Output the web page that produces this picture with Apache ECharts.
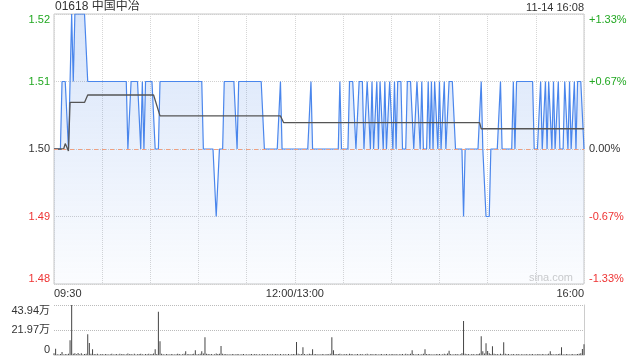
<!DOCTYPE html>
<html><head><meta charset="utf-8">
<script src="https://cdn.jsdelivr.net/npm/echarts@6/dist/echarts.min.js"></script>
<style>html,body{margin:0;padding:0;background:#fff}#c{width:640px;height:360px}</style>
</head><body><div id="c"></div>
<script>
const titleText = '01618 中国中冶';
const stampText = '11-14 16:08';
const watermark = 'sina.com';
const prevClose = 1.50;

const price = [
1.50,1.50,1.50,1.50,1.50,1.51,1.51,1.51,1.51,1.50,1.51,1.52,1.51,1.52,1.52,1.52,1.52,1.52,1.52,1.52,1.52,1.51,1.51,1.51,1.51,1.51,1.51,1.51,1.51,1.51,
1.51,1.51,1.51,1.51,1.51,1.51,1.51,1.51,1.51,1.51,1.51,1.51,1.51,1.51,1.51,1.51,1.50,1.50,1.51,1.51,1.51,1.51,1.51,1.51,1.50,1.51,1.50,1.51,1.51,1.51,
1.51,1.51,1.51,1.50,1.50,1.50,1.51,1.51,1.51,1.51,1.51,1.51,1.51,1.51,1.51,1.51,1.51,1.51,1.51,1.51,1.51,1.51,1.51,1.51,1.51,1.51,1.51,1.51,1.51,1.51,
1.51,1.51,1.51,1.50,1.50,1.50,1.50,1.50,1.50,1.50,1.50,1.49,1.49,1.50,1.50,1.50,1.51,1.51,1.51,1.51,1.51,1.51,1.51,1.51,1.50,1.51,1.51,1.51,1.51,1.51,
1.51,1.51,1.51,1.51,1.51,1.51,1.51,1.51,1.51,1.51,1.51,1.50,1.50,1.50,1.50,1.50,1.50,1.50,1.50,1.50,1.50,1.51,1.50,1.50,1.50,1.50,1.50,1.50,1.50,1.50,
1.50,1.50,1.50,1.50,1.50,1.50,1.50,1.50,1.50,1.50,1.51,1.50,1.50,1.50,1.50,1.50,1.50,1.50,1.50,1.50,1.50,1.50,1.50,1.50,1.50,1.50,1.50,1.50,1.51,1.50,
1.50,1.50,1.50,1.50,1.51,1.51,1.51,1.51,1.50,1.50,1.51,1.51,1.51,1.50,1.50,1.51,1.51,1.50,1.51,1.50,1.50,1.51,1.50,1.51,1.51,1.50,1.51,1.50,1.50,1.51,
1.51,1.50,1.51,1.50,1.51,1.51,1.51,1.50,1.50,1.50,1.51,1.51,1.51,1.51,1.50,1.50,1.51,1.51,1.50,1.51,1.50,1.50,1.50,1.51,1.50,1.51,1.50,1.51,1.51,1.50,
1.51,1.50,1.50,1.51,1.50,1.50,1.51,1.51,1.51,1.51,1.50,1.50,1.50,1.50,1.50,1.49,1.50,1.50,1.50,1.50,1.50,1.50,1.50,1.50,1.50,1.50,1.51,1.50,1.50,1.49,
1.49,1.49,1.50,1.50,1.50,1.50,1.50,1.50,1.51,1.50,1.50,1.50,1.50,1.50,1.50,1.50,1.51,1.50,1.51,1.51,1.51,1.51,1.51,1.51,1.51,1.51,1.51,1.51,1.51,1.50,
1.50,1.50,1.50,1.51,1.50,1.50,1.51,1.50,1.51,1.51,1.50,1.51,1.50,1.50,1.51,1.50,1.50,1.50,1.51,1.51,1.50,1.51,1.50,1.50,1.51,1.50,1.51,1.51,1.51,1.51,
1.50
];

const avgPts = [[0,1.500],[6,1.500],[7,1.5008],[8,1.5006],[9,1.4997],[10,1.5069],[19,1.5069],[21,1.5080],[62,1.5080],[66,1.5049],[141,1.5049],[143,1.5039],[265,1.5039],[266,1.5030],[330,1.5030]];

// volume in 万
const volume = [
1.5,5.6,0.6,0.4,0.8,2.7,0.5,0.9,0.6,1.2,13.0,43.94,1.0,1.5,0.7,1.8,0.6,1.6,0.5,0.8,1.1,18.3,10.6,1.2,5.0,0.9,0.6,1.0,0.4,0.7,
0.8,0.5,0.9,0.6,0.4,0.7,1.0,0.5,0.6,0.8,0.4,1.1,0.6,0.9,0.5,0.7,1.3,0.6,0.8,0.5,1.0,0.4,0.7,0.9,1.2,0.6,0.5,0.8,0.7,1.0,
0.6,0.9,1.4,5.0,0.8,38.0,12.1,1.0,0.7,0.5,0.8,0.6,0.4,0.9,0.7,0.5,0.6,1.0,0.8,0.5,0.7,1.1,3.2,0.6,0.8,0.5,0.9,1.2,4.1,0.7,
0.6,1.0,3.2,1.4,15.6,1.2,0.8,0.6,0.9,0.5,0.7,1.3,0.9,1.1,8.0,1.0,0.6,0.8,0.5,0.7,0.4,0.9,0.6,0.5,0.8,0.7,0.4,0.6,0.9,0.5,
0.7,0.4,0.6,0.8,0.5,0.9,0.6,0.4,0.7,0.5,0.8,0.6,0.5,0.9,0.4,0.6,0.7,0.5,0.8,0.6,0.4,0.9,0.5,0.7,0.6,0.4,0.8,0.5,0.6,0.9,
0.7,11.5,1.0,0.6,0.8,6.8,0.9,0.5,0.7,1.2,0.8,5.0,0.6,0.9,0.5,0.7,0.4,0.8,0.6,0.5,0.9,0.7,1.0,15.6,4.1,0.8,0.6,0.9,1.1,0.5,
0.7,0.6,0.9,0.5,1.0,0.8,0.6,0.4,0.7,0.9,0.5,0.8,0.6,0.4,0.7,1.0,0.5,0.6,0.8,0.4,0.9,0.6,0.5,0.7,0.8,0.4,0.6,0.9,0.5,0.7,
0.6,0.8,0.5,0.9,0.4,0.7,0.6,0.8,0.5,1.0,0.7,0.6,1.2,4.1,0.8,0.5,0.7,0.9,0.4,0.6,1.1,5.0,0.9,0.6,0.8,0.5,0.7,0.4,0.9,0.6,
0.8,0.5,0.7,1.0,0.6,1.4,3.8,0.9,0.5,0.7,0.6,0.8,0.4,0.7,1.5,29.8,1.2,0.6,0.8,0.5,0.7,0.9,0.4,0.6,0.8,1.3,16.5,3.2,1.4,10.3,
3.5,1.6,0.9,7.7,1.1,0.6,0.8,0.5,1.0,0.7,11.2,1.0,0.6,0.8,0.5,0.7,0.9,0.4,0.6,0.8,0.5,0.7,0.6,0.4,0.9,0.5,0.7,0.6,0.8,0.5,
0.7,0.6,0.9,0.5,0.8,0.6,0.4,0.7,1.0,3.2,0.8,0.5,0.7,0.6,0.9,1.1,6.8,0.7,0.5,0.8,0.6,0.4,0.7,0.9,0.5,0.6,0.8,1.2,1.5,5.3,
9.4
];

const priceTicks = ['1.48','1.49','1.50','1.51','1.52'];
const pctTicks = ['-1.33%','-0.67%','0.00%','+0.67%','+1.33%'];
const tickColors = ['#ee3333','#ee3333','#333333','#22a822','#22a822'];
const volTicks = ['0','21.97万','43.94万'];
const xTickIdx = [0,150,330];
const xTickText = ['09:30','12:00/13:00','16:00'];

const cats = [];
function pushRange(h1,m1,h2,m2){
  for(let t=h1*60+m1;t<=h2*60+m2;t++){
    cats.push(String(Math.floor(t/60)).padStart(2,'0')+':'+String(t%60).padStart(2,'0'));
  }
}
pushRange(9,30,12,0); pushRange(13,1,16,0);

const FONT = 'Arial, "Liberation Sans", "Noto Sans CJK SC", sans-serif';
const chart = echarts.init(document.getElementById('c'), null, {renderer:'canvas'});
chart.setOption({
  animation:false,
  textStyle:{fontFamily:FONT},
  grid:[
    {left:54, top:14, width:530, height:270, show:true, borderColor:'#c8c8c8', borderWidth:1, backgroundColor:'transparent'},
    {left:54, top:305, width:530, height:50}
  ],
  xAxis:[
    {type:'category', gridIndex:0, data:cats, boundaryGap:false,
     axisLine:{show:false}, axisTick:{show:false},
     axisLabel:{interval:function(i){return xTickIdx.indexOf(i)>=0;},
       formatter:function(v,i){return xTickText[xTickIdx.indexOf(i)];},
       margin:4, fontSize:11, color:'#333', fontFamily:FONT,
       alignMinLabel:'left', alignMaxLabel:'right'},
     splitLine:{show:true, interval:function(i){return i%30===0;}, lineStyle:{color:'#d6d6d6', type:'dotted'}}},
    {type:'category', gridIndex:1, data:cats, boundaryGap:false,
     axisLine:{show:true, lineStyle:{color:'#d8d8d8'}}, axisTick:{show:false},
     axisLabel:{show:false}, splitLine:{show:false}}
  ],
  yAxis:[
    {type:'value', gridIndex:0, min:1.48, max:1.52, interval:0.01,
     axisLine:{show:false}, axisTick:{show:false},
     axisLabel:{formatter:function(v,i){return priceTicks[i];}, color:function(v,i){return tickColors[i];},
       fontSize:11, margin:4, fontFamily:FONT, verticalAlignMinLabel:'bottom', verticalAlignMaxLabel:'top'},
     splitLine:{show:true, lineStyle:{color:'#d0d0d0', type:'dotted'}}},
    {type:'value', gridIndex:0, position:'right', min:1.48, max:1.52, interval:0.01,
     axisLine:{show:false}, axisTick:{show:false},
     axisLabel:{formatter:function(v,i){return pctTicks[i];}, color:function(v,i){return tickColors[i];},
       fontSize:11, margin:5, fontFamily:FONT, verticalAlignMinLabel:'bottom', verticalAlignMaxLabel:'top'},
     splitLine:{show:false}},
    {type:'value', gridIndex:1, min:0, max:43.94, interval:21.97,
     axisLine:{show:false}, axisTick:{show:false},
     axisLabel:{formatter:function(v,i){return volTicks[i];}, color:'#333', fontSize:11, margin:4, fontFamily:FONT,
       verticalAlignMinLabel:'bottom', verticalAlignMaxLabel:'top'},
     splitLine:{show:true, lineStyle:{color:'#bbbbbb', type:'dotted'}}},
    {type:'value', gridIndex:1, position:'right', min:0, max:43.94, interval:21.97,
     axisLine:{show:true, lineStyle:{color:'#cccccc'}}, axisTick:{show:false},
     axisLabel:{show:false}, splitLine:{show:false}}
  ],
  series:[
    {type:'line', xAxisIndex:0, yAxisIndex:0, data:[], z:1, silent:true,
     markLine:{silent:true, symbol:'none', label:{show:false},
       lineStyle:{color:'#f0a080', type:[4,4], width:1}, data:[{yAxis:prevClose}]}},
    {type:'line', xAxisIndex:0, yAxisIndex:0, data:price, symbol:'none', z:3,
     lineStyle:{color:'#4a86ec', width:1.2},
     areaStyle:{origin:'start', color:new echarts.graphic.LinearGradient(0,0,0,1,[
       {offset:0, color:'rgba(70,130,230,0.30)'},{offset:1, color:'rgba(70,130,230,0.03)'}])}},
    {type:'line', xAxisIndex:0, yAxisIndex:0, data:avgPts, symbol:'none', z:4,
     lineStyle:{color:'#555555', width:1.3}},
    {type:'bar', xAxisIndex:1, yAxisIndex:2, data:volume, barWidth:1, itemStyle:{color:'#444444'}}
  ],
  graphic:[
    {type:'text', left:55, top:1, style:{text:titleText, font:'12px '+FONT, fill:'#333'}},
    {type:'text', right:56, top:2, style:{text:stampText, font:'11px '+FONT, fill:'#333'}},
    {type:'text', right:67, top:272, style:{text:watermark, font:'11px '+FONT, fill:'#cccccc'}}
  ]
});
</script>
</body></html>
